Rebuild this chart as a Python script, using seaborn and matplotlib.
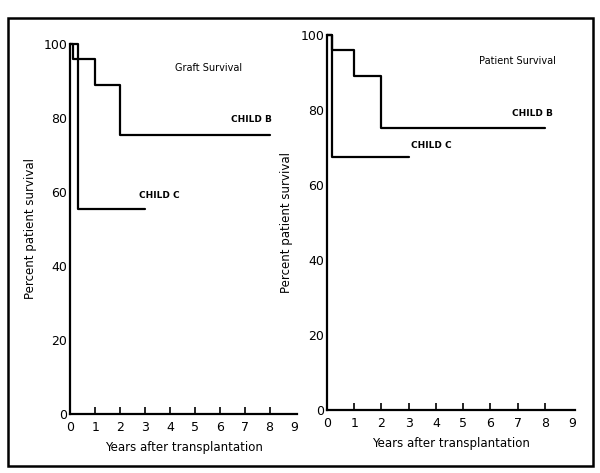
import matplotlib
matplotlib.use("Agg")
import matplotlib.pyplot as plt
import seaborn as sns
import pandas as pd
from matplotlib.patches import Rectangle

# === data ===
graft_b_years = [0, 0.1, 1.0, 2.0, 8.0]
graft_b_pct = [100, 96, 89, 75.5, 75.5]
graft_c_years = [0, 0.3, 3.0]
graft_c_pct = [100, 55.5, 55.5]

patient_b_years = [0, 0.2, 1.0, 2.0, 8.0]
patient_b_pct = [100, 96, 89, 75.3, 75.3]
patient_c_years = [0, 0.2, 3.0]
patient_c_pct = [100, 67.5, 67.5]

year_ticks = [0, 1, 2, 3, 4, 5, 6, 7, 8, 9]
pct_ticks = [0, 20, 40, 60, 80, 100]

sns.set_style("white")
plt.rcParams["font.family"] = ["DejaVu Sans"]
plt.rcParams["text.color"] = "black"
plt.rcParams["axes.labelcolor"] = "black"
plt.rcParams["xtick.color"] = "black"
plt.rcParams["ytick.color"] = "black"

fig = plt.figure(figsize=(6, 4.73), dpi=100)
ax1 = fig.add_axes([0.117, 0.125, 0.378, 0.782])
ax2 = fig.add_axes([0.545, 0.133, 0.413, 0.793])

# outer frame of the scanned figure
fig.patches.append(Rectangle((8 / 600, 1 - 466 / 473), 585 / 600, 448 / 473,
                             transform=fig.transFigure, fill=False,
                             edgecolor="black", linewidth=1.8))


def draw_panel(ax, b_x, b_y, c_x, c_y, title, title_pos, b_pos, c_pos):
    df_b = pd.DataFrame({"x": b_x, "y": b_y})
    df_c = pd.DataFrame({"x": c_x, "y": c_y})
    for d in (df_b, df_c):
        sns.lineplot(data=d, x="x", y="y", ax=ax, color="black", linewidth=1.6,
                     drawstyle="steps-post", sort=False, clip_on=False)
    ax.set_xlim(0, 9.1)
    ax.set_ylim(0, 100)
    ax.set_xticks(year_ticks)
    ax.set_yticks(pct_ticks)
    ax.tick_params(axis="x", bottom=True, direction="in", length=5, width=1.2,
                   labelsize=9, pad=5)
    ax.tick_params(axis="y", length=0, labelsize=9, pad=2)
    # no tick marks at 0 and 9 in the original, only the labels
    xt = ax.xaxis.get_major_ticks()
    for t in (xt[0], xt[-1]):
        t.tick1line.set_visible(False)
    ax.set_xlabel("Years after transplantation", fontsize=8.5, labelpad=5)
    ax.set_ylabel("Percent patient survival", fontsize=8.5, labelpad=5)
    sns.despine(ax=ax)
    ax.spines["left"].set_linewidth(1.6)
    ax.spines["bottom"].set_linewidth(1.6)
    ax.spines["left"].set_color("black")
    ax.spines["bottom"].set_color("black")
    ax.text(title_pos[0], title_pos[1], title, fontsize=7, ha="left", va="center")
    ax.text(b_pos[0], b_pos[1], "CHILD B", fontsize=6.5, fontweight="bold", ha="left", va="center")
    ax.text(c_pos[0], c_pos[1], "CHILD C", fontsize=6.5, fontweight="bold", ha="left", va="center")


draw_panel(ax1, graft_b_years, graft_b_pct, graft_c_years, graft_c_pct,
           "Graft Survival", (4.2, 93.5), (6.45, 79.5), (2.75, 59))
draw_panel(ax2, patient_b_years, patient_b_pct, patient_c_years, patient_c_pct,
           "Patient Survival", (5.6, 93), (6.8, 79), (3.1, 70.5))

fig.savefig("out.png", dpi=100)
